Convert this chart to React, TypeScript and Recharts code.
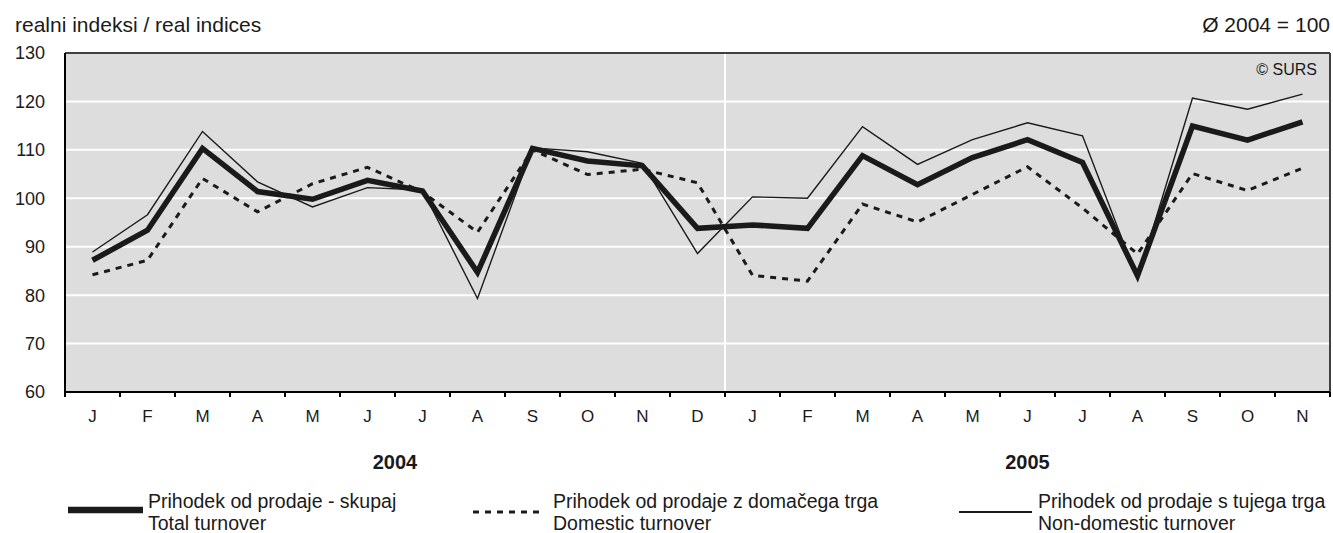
import React from "react";
import {
  CartesianGrid,
  Line,
  LineChart,
  ReferenceLine,
  XAxis,
  YAxis,
} from "recharts";

// Month initials, Jan 2004 .. Nov 2005
const MONTHS = [
  "J", "F", "M", "A", "M", "J", "J", "A", "S", "O", "N", "D",
  "J", "F", "M", "A", "M", "J", "J", "A", "S", "O", "N",
];
const YEARS = ["2004", "2005"];
const YEAR_TICKS = [5.5, 17];
const Y_TICKS = [60, 70, 80, 90, 100, 110, 120, 130];

const TOTAL = [
  87.2, 93.4, 110.3, 101.4, 99.8, 103.7, 101.5, 84.7, 110.3, 107.7, 106.7, 93.8,
  94.5, 93.8, 108.8, 102.8, 108.4, 112.1, 107.4, 84.0, 114.9, 112.0, 115.8,
];
const DOMESTIC = [
  84.2, 87.2, 104.1, 97.2, 103.0, 106.4, 101.3, 93.0, 110.0, 104.9, 106.0, 103.2,
  84.1, 82.9, 98.8, 95.1, 100.8, 106.5, 98.0, 88.5, 105.1, 101.6, 106.2,
];
const NON_DOMESTIC = [
  88.9, 96.6, 113.8, 103.4, 98.2, 102.2, 101.7, 79.3, 110.4, 109.6, 107.2, 88.6,
  100.3, 100.0, 114.8, 107.0, 112.1, 115.6, 112.9, 83.3, 120.7, 118.4, 121.5,
];

const data = MONTHS.map((m, i) => ({
  idx: i,
  month: m,
  total: TOTAL[i],
  domestic: DOMESTIC[i],
  nondomestic: NON_DOMESTIC[i],
}));

const BOUNDS = [...MONTHS.map((_, i) => i - 0.5), MONTHS.length - 0.5];
const MID = MONTHS.map((_, i) => i);
const DOMAIN: [number, number] = [-0.5, MONTHS.length - 0.5];

const FONT = "'Liberation Sans', Arial, sans-serif";
const INK = "#1a1a1a";

const legendItems = [
  { l1: "Prihodek od prodaje - skupaj", l2: "Total turnover", w: 6.5, dash: undefined, x: 68, len: 75, tx: 148, ly: 4 },
  { l1: "Prihodek od prodaje z domačega trga", l2: "Domestic turnover", w: 3, dash: "6 6", x: 473, len: 70, tx: 553, ly: 6 },
  { l1: "Prihodek od prodaje s tujega trga", l2: "Non-domestic turnover", w: 2, dash: undefined, x: 959, len: 73, tx: 1038, ly: 6 },
];

export default function App() {
  return (
    <div
      style={{
        position: "absolute",
        left: 0,
        top: 0,
        width: 1333,
        height: 533,
        background: "#fff",
        fontFamily: FONT,
        color: INK,
      }}
    >
      <LineChart
        width={1333}
        height={533}
        data={data}
        margin={{ top: 53, right: 3, left: 8, bottom: 53 }}
        style={{ position: "absolute", left: 0, top: 0 }}
      >
        <CartesianGrid
          vertical={false}
          fill="#dddddd"
          stroke="#ffffff"
          strokeWidth={2}
          xAxisId="months"
        />
        <XAxis
          xAxisId="marks"
          dataKey="idx"
          type="number"
          domain={DOMAIN}
          ticks={BOUNDS}
          interval={0}
          tickFormatter={() => ""}
          tickSize={5}
          height={8}
          axisLine={{ stroke: "#000", strokeWidth: 2 }}
          tickLine={{ stroke: "#000", strokeWidth: 2 }}
        />
        <XAxis
          xAxisId="months"
          dataKey="idx"
          type="number"
          domain={DOMAIN}
          ticks={MID}
          interval={0}
          tickFormatter={(v: number) => MONTHS[v]}
          axisLine={false}
          tickLine={false}
          tickSize={0}
          tickMargin={10}
          height={40}
          tick={{ fill: INK, fontSize: 17, fontFamily: FONT }}
        />
        <XAxis
          xAxisId="years"
          dataKey="idx"
          type="number"
          domain={DOMAIN}
          ticks={YEAR_TICKS}
          interval={0}
          tickFormatter={(v: number) => YEARS[YEAR_TICKS.indexOf(v)]}
          axisLine={false}
          tickLine={false}
          tickSize={0}
          tickMargin={15}
          height={40}
          tick={{ fill: INK, fontSize: 20, fontWeight: "bold", fontFamily: FONT }}
        />
        <YAxis
          domain={[60, 130]}
          ticks={Y_TICKS}
          interval={0}
          width={57}
          tickLine={false}
          tickSize={0}
          tickMargin={20}
          axisLine={{ stroke: "#000", strokeWidth: 2 }}
          tick={{ fill: INK, fontSize: 18, fontFamily: FONT }}
        />
        <ReferenceLine xAxisId="months" x={11.5} stroke="#ffffff" strokeWidth={2} />
        <ReferenceLine xAxisId="months" y={130} stroke="#404040" strokeWidth={2} />
        <ReferenceLine xAxisId="months" x={22.5} stroke="#404040" strokeWidth={2} />
        <Line
          xAxisId="months"
          dataKey="domestic"
          stroke={INK}
          strokeWidth={3}
          strokeDasharray="6 6"
          dot={false}
          isAnimationActive={false}
          type="linear"
        />
        <Line
          xAxisId="months"
          dataKey="nondomestic"
          stroke={INK}
          strokeWidth={1.4}
          dot={false}
          isAnimationActive={false}
          type="linear"
        />
        <Line
          xAxisId="months"
          dataKey="total"
          stroke={INK}
          strokeWidth={5.5}
          dot={false}
          isAnimationActive={false}
          type="linear"
        />
      </LineChart>

      <div style={{ position: "absolute", left: 15, top: 13, fontSize: 21, whiteSpace: "nowrap" }}>
        realni indeksi / real indices
      </div>
      <div style={{ position: "absolute", right: 3, top: 13, fontSize: 21, whiteSpace: "nowrap" }}>
        Ø 2004 = 100
      </div>
      <div style={{ position: "absolute", right: 16, top: 61, fontSize: 16, whiteSpace: "nowrap" }}>
        © SURS
      </div>

      {legendItems.map((it) => (
        <div key={it.l1}>
          <svg
            width={it.len}
            height={12}
            style={{ position: "absolute", left: it.x, top: 506 }}
          >
            <line
              x1={0}
              x2={it.len}
              y1={it.ly}
              y2={it.ly}
              stroke={INK}
              strokeWidth={it.w}
              strokeDasharray={it.dash}
            />
          </svg>
          <div
            style={{
              position: "absolute",
              left: it.tx,
              top: 491,
              fontSize: 19.5,
              lineHeight: "21.5px",
              whiteSpace: "nowrap",
            }}
          >
            {it.l1}
            <br />
            {it.l2}
          </div>
        </div>
      ))}
    </div>
  );
}
